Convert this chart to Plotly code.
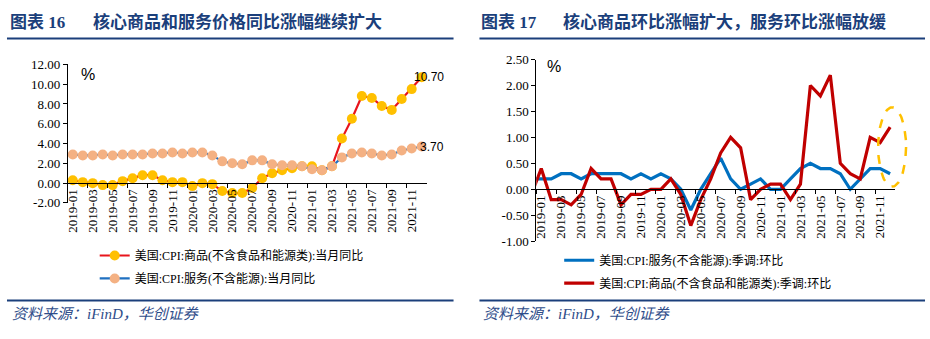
import math
import plotly.graph_objects as go

W, H = 930, 339

# ---------------- data ----------------
months = ["2018-12"] + [f"{y}-{m:02d}" for y in (2019, 2020, 2021) for m in range(1, 13)]

goods_yoy = [0.2,
             0.3, 0.1, 0.0, -0.2, -0.2, 0.2, 0.5, 0.8, 0.8, 0.3, 0.1, 0.1,
             -0.3, 0.0, -0.1, -0.8, -1.0, -1.0, -0.5, 0.5, 1.0, 1.3, 1.5, 1.7,
             1.7, 1.3, 1.7, 4.5, 6.5, 8.8, 8.6, 7.8, 7.4, 8.5, 9.5, 10.7]
services_yoy = [2.9,
                2.9, 2.8, 2.8, 2.9, 2.8, 2.9, 2.9, 2.9, 3.0, 3.0, 3.1, 3.0,
                3.1, 3.1, 2.8, 2.2, 2.0, 1.9, 2.3, 2.3, 1.9, 1.8, 1.8, 1.7,
                1.4, 1.3, 1.7, 2.6, 3.0, 3.1, 3.0, 2.8, 2.9, 3.3, 3.5, 3.7]

services_mom = [0.2,
                0.2, 0.2, 0.3, 0.3, 0.2, 0.3, 0.3, 0.3, 0.3, 0.2, 0.3, 0.2,
                0.3, 0.2, 0.0, -0.4, 0.0, 0.3, 0.6, 0.2, 0.0, 0.1, 0.2, 0.0,
                0.0, 0.2, 0.4, 0.5, 0.4, 0.4, 0.3, 0.0, 0.2, 0.4, 0.4, 0.3]
goods_mom = [-0.1,
             0.4, -0.2, -0.2, -0.3, -0.1, 0.4, 0.2, 0.2, -0.3, -0.1, -0.1, 0.0,
             0.0, 0.2, -0.1, -0.7, -0.2, 0.2, 0.7, 1.0, 0.8, -0.2, 0.0, 0.1,
             0.1, -0.2, 0.1, 2.0, 1.8, 2.2, 0.5, 0.3, 0.2, 1.0, 0.9, 1.2]

left_yticks = [-2, 0, 2, 4, 6, 8, 10, 12]
left_yticktext = ["-2.00", "0.00", "2.00", "4.00", "6.00", "8.00", "10.00", "12.00"]
right_yticks = [-1.0, -0.5, 0.0, 0.5, 1.0, 1.5, 2.0, 2.5]
right_yticktext = ["-1.00", "-0.50", "0.00", "0.50", "1.00", "1.50", "2.00", "2.50"]

name_goods_yoy = "美国:CPI:商品(不含食品和能源类):当月同比"
name_serv_yoy = "美国:CPI:服务(不含能源):当月同比"
name_serv_mom = "美国:CPI:服务(不含能源):季调:环比"
name_goods_mom = "美国:CPI:商品(不含食品和能源类):季调:环比"

title_left_num = "图表 16"
title_left = "核心商品和服务价格同比涨幅继续扩大"
title_right_num = "图表 17"
title_right = "核心商品环比涨幅扩大，服务环比涨幅放缓"
source_text = "资料来源：iFinD，华创证券"

# ---------------- helpers ----------------
def px(X):
    return X / W

def py(Y):
    return 1 - Y / H

NAVY = "#1B3F7B"
SERIF = "Liberation Serif, Noto Sans CJK SC, serif"
CJK = "Liberation Serif, Noto Sans CJK SC"

L_x0, L_x1, L_ytop, L_ybot = 65, 425, 60, 205
R_x0, R_x1, R_ytop, R_ybot = 535, 895, 55, 245
L_rng = [-2, 12]
R_rng = [-1, 2.5]

def zero_pos(ytop, ybot, rng):
    d0, d1 = py(ybot), py(ytop)
    return d0 + (0 - rng[0]) / (rng[1] - rng[0]) * (d1 - d0)

fig = go.Figure()

fig.add_trace(go.Scatter(x=months, y=goods_yoy, mode="lines+markers", name=name_goods_yoy,
                         line=dict(color="#E8141C", width=2.2),
                         marker=dict(color="#FFC000", size=10),
                         xaxis="x", yaxis="y", legend="legend"))
fig.add_trace(go.Scatter(x=months, y=services_yoy, mode="lines+markers", name=name_serv_yoy,
                         line=dict(color="#1F70C1", width=2.2),
                         marker=dict(color="#F4B183", size=10),
                         xaxis="x", yaxis="y", legend="legend2"))
fig.add_trace(go.Scatter(x=months, y=services_mom, mode="lines", name=name_serv_mom,
                         line=dict(color="#0070C0", width=3.2),
                         xaxis="x2", yaxis="y2", legend="legend3"))
fig.add_trace(go.Scatter(x=months, y=goods_mom, mode="lines", name=name_goods_mom,
                         line=dict(color="#C00000", width=3.2),
                         xaxis="x2", yaxis="y2", legend="legend4"))

# decorative highlight ellipse on a full-page overlay axis (pixel units)
ecx, ecy, erx, ery = 892, 146.5, 14, 41.5
ang = [2 * math.pi * i / 120 for i in range(121)]
fig.add_trace(go.Scatter(x=[ecx + erx * math.cos(a) for a in ang],
                         y=[ecy + ery * math.sin(a) for a in ang],
                         mode="lines", line=dict(color="#FFC000", width=2.5, dash="dash"),
                         showlegend=False, hoverinfo="skip", xaxis="x3", yaxis="y3"))

xcommon = dict(type="category", range=[0.5, len(months) - 0.5], tickmode="linear", tick0=1, dtick=2,
               tickson="boundaries", tickangle=-90, ticks="outside", ticklen=4, tickcolor="black",
               showline=True, linecolor="black", linewidth=1, showgrid=False, zeroline=False,
               tickfont=dict(family=SERIF, size=13, color="black"), anchor="free")
ycommon = dict(tickmode="array", ticks="outside", ticklen=4, tickcolor="black",
               showline=True, linecolor="black", linewidth=1, showgrid=False, zeroline=False,
               tickfont=dict(family=SERIF, size=13, color="black"))

leg = dict(xanchor="left", yanchor="middle", bgcolor="rgba(0,0,0,0)",
           font=dict(family=CJK, size=12, color="black"), itemwidth=30)

fig.update_layout(
    width=W, height=H, margin=dict(l=0, r=0, t=0, b=0),
    paper_bgcolor="white", plot_bgcolor="rgba(0,0,0,0)",
    showlegend=True,
    xaxis=dict(domain=[px(L_x0), px(L_x1)], position=zero_pos(L_ytop, L_ybot, L_rng), **xcommon),
    yaxis=dict(domain=[py(L_ybot), py(L_ytop)], range=L_rng, tickvals=left_yticks,
               ticktext=left_yticktext, anchor="x", **ycommon),
    xaxis2=dict(domain=[px(R_x0), px(R_x1)], position=zero_pos(R_ytop, R_ybot, R_rng), **xcommon),
    yaxis2=dict(domain=[py(R_ybot), py(R_ytop)], range=R_rng, tickvals=right_yticks,
                ticktext=right_yticktext, anchor="x2", **ycommon),
    xaxis3=dict(domain=[0, 1], range=[0, W], visible=False, anchor="y3", fixedrange=True),
    yaxis3=dict(domain=[0, 1], range=[H, 0], visible=False, anchor="x3", fixedrange=True),
    legend=dict(x=px(92), y=py(260), **leg),
    legend2=dict(x=px(92), y=py(284), **leg),
    legend3=dict(x=px(558), y=py(265), **leg),
    legend4=dict(x=px(558), y=py(289), **leg),
)

ann = []
ann.append(dict(text=f"<b>{title_left_num}</b>", x=px(5), y=py(16), xanchor="left", yanchor="middle"))
ann.append(dict(text=f"<b>{title_left}</b>", x=px(88), y=py(16), xanchor="left", yanchor="middle"))
ann.append(dict(text=f"<b>{title_right_num}</b>", x=px(478), y=py(16), xanchor="left", yanchor="middle"))
ann.append(dict(text=f"<b>{title_right}</b>", x=px(560), y=py(16), xanchor="left", yanchor="middle"))
for a in ann:
    a.update(xref="paper", yref="paper", showarrow=False,
             font=dict(family=SERIF, size=17, color=NAVY))
for X in (7, 480):
    ann.append(dict(text=f"<i>{source_text}</i>", x=px(X), y=py(321), xref="paper", yref="paper",
                    xanchor="left", yanchor="middle", showarrow=False,
                    font=dict(family=SERIF, size=15, color="#2F4D8A")))
ann.append(dict(text="%", x=px(76), y=py(71), xref="paper", yref="paper", xanchor="left",
                yanchor="middle", showarrow=False,
                font=dict(family="Liberation Sans", size=16, color="black")))
ann.append(dict(text="%", x=px(544), y=py(62), xref="paper", yref="paper", xanchor="left",
                yanchor="middle", showarrow=False,
                font=dict(family="Liberation Sans", size=16, color="black")))
ann.append(dict(text=f"{goods_yoy[-1]:.2f}", x=months[-1], y=goods_yoy[-1], xref="x", yref="y",
                xanchor="left", yanchor="middle", xshift=-10, showarrow=False,
                font=dict(family="Liberation Sans", size=12, color="black")))
ann.append(dict(text=f"{services_yoy[-1]:.2f}", x=months[-1], y=services_yoy[-1], xref="x", yref="y",
                xanchor="left", yanchor="middle", xshift=-4, showarrow=False,
                font=dict(family="Liberation Sans", size=12, color="black")))
fig.update_layout(annotations=ann)

shapes = []
for (a, b) in ((4, 452), (478, 925)):
    shapes.append(dict(type="line", xref="paper", yref="paper", x0=px(a), x1=px(b),
                       y0=py(33), y1=py(33), line=dict(color=NAVY, width=2)))
    shapes.append(dict(type="line", xref="paper", yref="paper", x0=px(a), x1=px(b),
                       y0=py(307), y1=py(307), line=dict(color=NAVY, width=2)))
fig.update_layout(shapes=shapes)

fig.write_html("out.html")
